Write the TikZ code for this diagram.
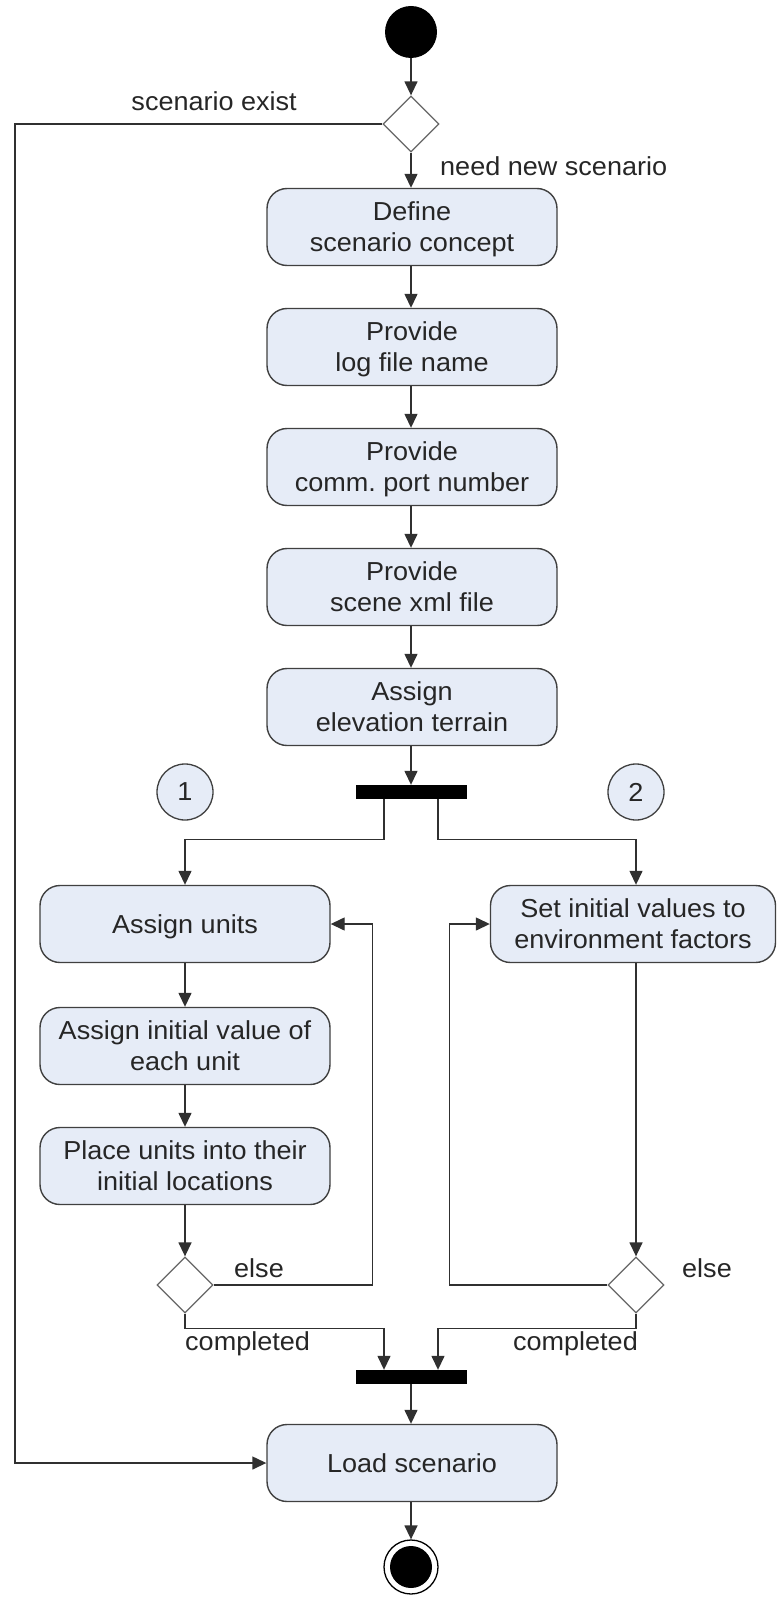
\documentclass[tikz,border=0pt]{standalone}
\usepackage{fontspec}
\setmainfont{Liberation Sans}[FakeStretch=1.04]
\usetikzlibrary{arrows.meta,shapes.geometric}
\definecolor{actfill}{HTML}{E6ECF7}
\definecolor{actline}{HTML}{404040}
\definecolor{flowline}{HTML}{303030}
\frenchspacing
\begin{document}
\begin{tikzpicture}[x=1pt,y=-1pt,
  every node/.style={font=\fontsize{26}{31}\selectfont, text=black!85},
  activity/.style={draw=actline, fill=actfill, line width=1.4pt, rounded corners=20pt,
    minimum width=290pt, minimum height=77pt, align=center, inner sep=0pt, text depth=0pt},
  decision/.style={diamond, draw=black!60, fill=white, line width=1.3pt,
    minimum width=56pt, minimum height=56pt, inner sep=0pt},
  syncbar/.style={fill=black, minimum width=111pt, minimum height=14pt, inner sep=0pt},
  startnode/.style={circle, fill=black, minimum size=52pt, inner sep=0pt},
  endring/.style={circle, draw=black, fill=white, line width=1.3pt, minimum size=54pt, inner sep=0pt},
  marker/.style={circle, draw=actline, fill=actfill, line width=1.3pt, minimum size=56pt, inner sep=0pt},
  flow/.style={draw=flowline, line width=1.4pt, -{Triangle[length=14pt,width=13pt]}},
  guard/.style={inner sep=0pt}
]
\useasboundingbox (0,0) rectangle (778,1597);

% main column
\node[startnode] (start) at (411,32) {};
\node[decision] (d1) at (411,124) {};
\node[activity] (define) at (412,227) {Define\\scenario concept};
\node[activity] (logname) at (412,347) {Provide\\log file name};
\node[activity] (port) at (412,467) {Provide\\comm.\ port number};
\node[activity] (scene) at (412,587) {Provide\\scene xml file};
\node[activity] (terrain) at (412,707) {Assign\\elevation terrain};
\node[syncbar] (fork) at (411,792) {};

% partition markers
\node[marker] (m1) at (185,792) {1};
\node[marker] (m2) at (636,792) {2};

% branch 1
\node[activity] (units) at (185,924) {Assign units};
\node[activity] (initval) at (185,1046) {Assign initial value of\\each unit};
\node[activity] (place) at (185,1166) {Place units into their\\initial locations};
\node[decision] (d2) at (185,1285) {};

% branch 2
\node[activity, minimum width=285pt] (env) at (633,924) {Set initial values to\\environment factors};
\node[decision] (d3) at (636,1285) {};

% join and end
\node[syncbar] (join) at (411,1377) {};
\node[activity] (load) at (412,1463) {Load scenario};
\node[endring] (end) at (411,1567) {};
\fill[black] (end.center) circle[radius=21pt];

\coordinate (rail) at (15,0);

% connectors
\draw[flow] (start) -- (d1);
\draw[flow] (d1) -- (d1 |- define.north);
\draw[flow] (d1 |- define.south) -- (d1 |- logname.north);
\draw[flow] (d1 |- logname.south) -- (d1 |- port.north);
\draw[flow] (d1 |- port.south) -- (d1 |- scene.north);
\draw[flow] (d1 |- scene.south) -- (d1 |- terrain.north);
\draw[flow] (d1 |- terrain.south) -- (fork);
\draw[flow] ([xshift=-27pt]fork.south) -- ++(0,40) -| (units.north);
\draw[flow] ([xshift=27pt]fork.south) -- ++(0,40) -| (m2 |- env.north);
\draw[flow] (units) -- (initval);
\draw[flow] (initval) -- (place);
\draw[flow] (place) -- (d2);
\draw[flow] (d2.east) -- ++(159,0) |- (units.east);
\draw[flow] (d2.south) -- ++(0,15) -| ([xshift=-27pt]join.north);
\draw[flow] (d3 |- env.south) -- (d3.north);
\draw[flow] (d3.west) -- ++(-158,0) |- (env.west);
\draw[flow] (d3.south) -- ++(0,15) -| ([xshift=27pt]join.north);
\draw[flow] (join) -- (join |- load.north);
\draw[flow] (join |- load.south) -- (end);
\draw[flow] (d1.west) -- (d1.west -| rail) |- (load.west);

% guards
\node[guard, anchor=base east] (lexist) at (297,111) {scenario exist};
\node[guard, anchor=base west] (lnew) at (440,176) {need new scenario};
\node[guard, anchor=base west] (lelse1) at (234,1277) {else};
\node[guard, anchor=base west] (lelse2) at (682,1277) {else};
\node[guard, anchor=base west] (ldone1) at (185,1350) {completed};
\node[guard, anchor=base east] (ldone2) at (638,1350) {completed};
\end{tikzpicture}
\end{document}
